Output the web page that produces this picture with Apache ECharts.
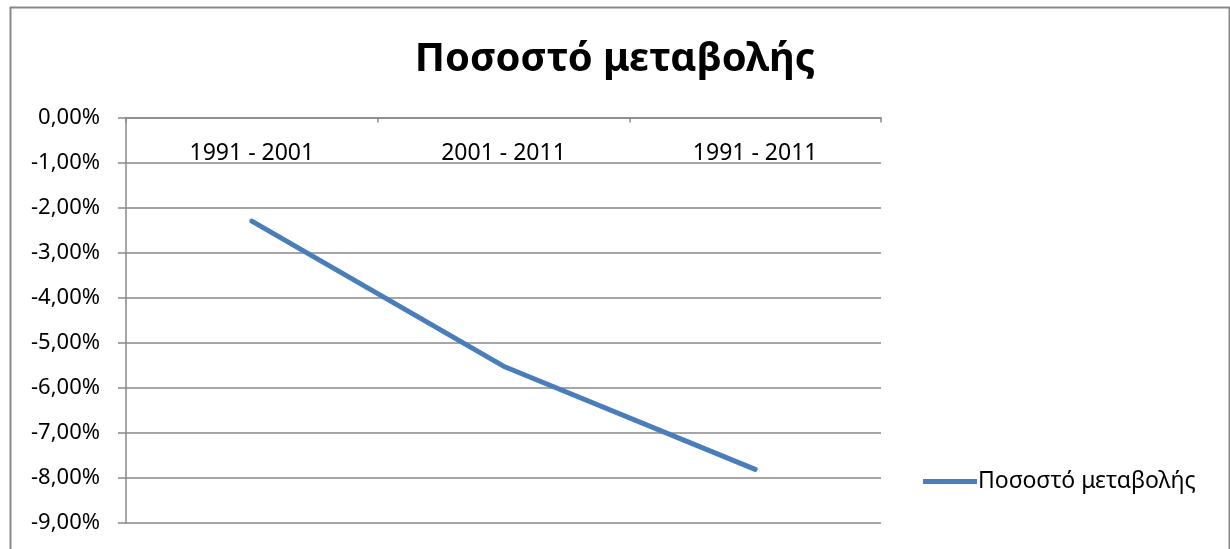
<!DOCTYPE html>
<html>
<head>
<meta charset="utf-8">
<script src="https://cdn.jsdelivr.net/npm/echarts@6/dist/echarts.min.js"></script>
<style>
html,body{margin:0;padding:0;background:#fff;}
#c{width:1230px;height:549px;}
</style>
</head>
<body>
<div id="c"></div>
<script>
const titleText = 'Ποσοστό μεταβολής';
const categories = ['1991 - 2001', '2001 - 2011', '1991 - 2011'];
const seriesName = 'Ποσοστό μεταβολής';
const values = [-0.0230, -0.0552, -0.0781];
const yMin = -0.09, yMax = 0, yInterval = 0.01;

const FONT = 'Noto Sans';
const chart = echarts.init(document.getElementById('c'), null, {renderer: 'canvas'});
chart.setOption({
  animation: false,
  backgroundColor: '#fff',
  textStyle: {fontFamily: FONT},
  graphic: [{
    type: 'rect', left: 8, top: 5,
    shape: {width: 1219, height: 560},
    style: {fill: 'none', stroke: '#898989', lineWidth: 2},
    silent: true
  }],
  title: {
    text: titleText, left: 'center', top: 35,
    textStyle: {fontFamily: FONT, fontSize: 40, fontWeight: 'bold', color: '#000'}
  },
  legend: {
    data: [seriesName], left: 918, top: 465, orient: 'vertical',
    itemWidth: 54, itemHeight: 5, itemGap: 4,
    icon: 'rect',
    textStyle: {fontFamily: FONT, fontSize: 23, color: '#000', padding: [0,0,0,-4]}
  },
  grid: {left: 126, right: 349, top: 117.5, bottom: 26, containLabel: false},
  xAxis: {
    type: 'category', data: categories, position: 'top', boundaryGap: true,
    axisLine: {show: true, lineStyle: {color: '#898989', width: 1.5}},
    axisTick: {show: true, inside: true, length: 5, lineStyle: {color: '#898989', width: 1.5}},
    axisLabel: {inside: true, margin: 24, fontFamily: FONT, fontSize: 23, color: '#000'},
    splitLine: {show: false}
  },
  yAxis: {
    type: 'value', min: yMin, max: yMax, interval: yInterval,
    axisLine: {show: true, lineStyle: {color: '#898989', width: 1.5}},
    axisTick: {show: true, length: 8, lineStyle: {color: '#898989', width: 1.5}},
    axisLabel: {
      margin: 26, fontFamily: FONT, fontSize: 22, color: '#000',
      formatter: v => (v * 100).toFixed(2).replace('.', ',') + '%'
    },
    splitLine: {show: true, lineStyle: {color: '#898989', width: 1.5}}
  },
  series: [{
    name: seriesName, type: 'line', data: values,
    showSymbol: false, symbol: 'none',
    lineStyle: {color: '#4A7EBB', width: 5, cap: 'round', join: 'round'},
    itemStyle: {color: '#4A7EBB'}
  }]
});
</script>
</body>
</html>
